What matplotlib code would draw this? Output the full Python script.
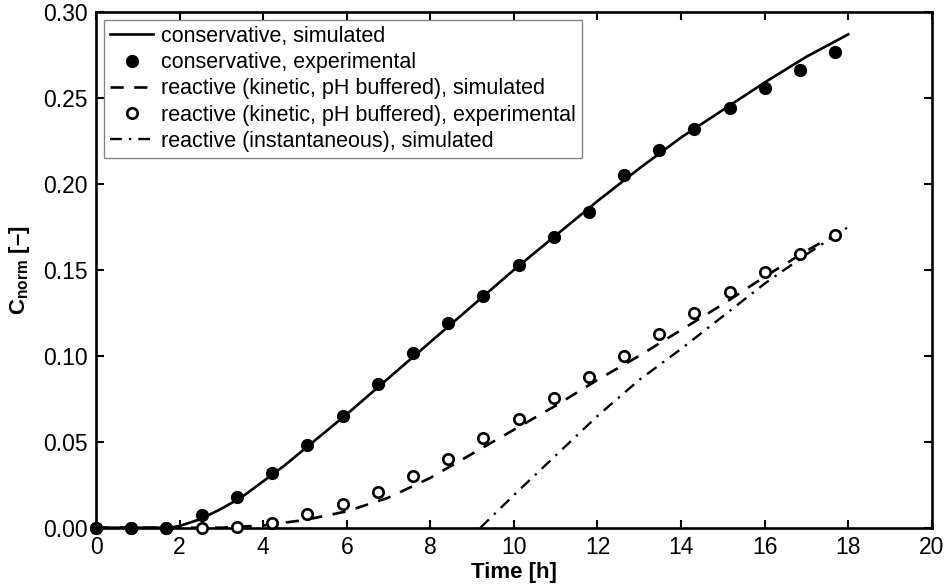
import matplotlib.pyplot as plt
import numpy as np

plt.rcParams['font.family'] = ['Liberation Sans', 'DejaVu Sans']
plt.rcParams['mathtext.fontset'] = 'custom'
plt.rcParams['mathtext.rm'] = 'Liberation Sans'
plt.rcParams['mathtext.bf'] = 'Liberation Sans:bold'

# experimental sampling times [h]
t_exp = [0, 0.84, 1.68, 2.53, 3.37, 4.21, 5.05, 5.90, 6.74, 7.58, 8.42,
         9.27, 10.11, 10.95, 11.80, 12.64, 13.48, 14.32, 15.17, 16.01, 16.85, 17.69]
cons_exp = [0, 0, 0, 0.0073, 0.0178, 0.032, 0.048, 0.065, 0.0835, 0.1015, 0.119,
            0.135, 0.153, 0.169, 0.1835, 0.205, 0.2195, 0.232, 0.244, 0.256, 0.2665, 0.277]
react_exp = [0, 0, 0, 0, 0.0006, 0.003, 0.008, 0.014, 0.021, 0.030, 0.040,
             0.052, 0.063, 0.0755, 0.0876, 0.100, 0.1126, 0.1248, 0.137, 0.1487, 0.159, 0.170]

# simulated curves
t_cons = [0, 1, 1.5, 1.8, 2, 2.5, 3, 3.5, 4, 4.5, 5, 5.5, 6, 7, 8, 9, 10,
          11, 12, 13, 14, 15, 16, 17, 18]
cons_sim = [0, 0, 0, 0.0002, 0.001, 0.005, 0.011, 0.018, 0.027, 0.036, 0.046, 0.056,
            0.066, 0.087, 0.108, 0.129, 0.150, 0.170, 0.190, 0.209, 0.227, 0.243,
            0.259, 0.274, 0.287]

t_kin = [0, 3, 4, 5, 6, 7, 8, 8.5, 9, 10, 11, 12, 13, 14, 15, 16, 17, 18]
kin_sim = [0, 0, 0.0013, 0.0045, 0.0095, 0.0175, 0.029, 0.036, 0.043, 0.057,
           0.071, 0.086, 0.100, 0.115, 0.130, 0.146, 0.161, 0.175]

t_inst = [9.2, 10, 11, 12, 13, 14, 15, 16, 17, 18]
inst_sim = [0, 0.019, 0.042, 0.065, 0.086, 0.104, 0.123, 0.142, 0.159, 0.175]

fig = plt.figure(figsize=(9.46, 5.86), dpi=100)
ax = fig.add_axes([0.1015, 0.0995, 0.8835, 0.88])

ax.plot(t_cons, cons_sim, color='black', lw=1.9, label='conservative, simulated', zorder=3)
ax.plot(t_exp, cons_exp, 'o', color='black', ms=8.5, label='conservative, experimental',
        clip_on=False, zorder=5)
ax.plot(t_kin, kin_sim, color='black', lw=1.9, dashes=(5, 4),
        label='reactive (kinetic, pH buffered), simulated', zorder=3)
ax.plot(t_exp, react_exp, 'o', mfc='white', mec='black', mew=1.9, ms=7.5,
        label='reactive (kinetic, pH buffered), experimental', clip_on=False, zorder=4)
ax.plot(t_inst, inst_sim, color='black', lw=1.7, dashes=(5, 3, 1, 3),
        label='reactive (instantaneous), simulated', zorder=3)

ax.set_xlim(0, 20)
ax.set_ylim(0, 0.30)
ax.set_xticks(np.arange(0, 21, 2))
ax.set_yticks(np.arange(0, 0.31, 0.05))
ax.set_yticklabels(['%.2f' % v for v in np.arange(0, 0.31, 0.05)])
ax.tick_params(direction='in', top=True, right=True, length=6, width=1.5,
               labelsize=16.5, pad=6)
for s in ax.spines.values():
    s.set_linewidth(1.9)

ax.set_xlabel('Time [h]', fontsize=16, fontweight='bold', labelpad=2)
ax.set_ylabel(r'C$_{\mathbf{norm}}$ [–]', fontsize=16, fontweight='bold', labelpad=8)

leg = ax.legend(loc='upper left', fontsize=15.5, frameon=True, fancybox=False,
                edgecolor='0.4', handlelength=2.0, handletextpad=0.35,
                labelspacing=0.24, borderpad=0.3, borderaxespad=0.35)
leg.get_frame().set_linewidth(1.0)

fig.savefig('out.png', dpi=100)
